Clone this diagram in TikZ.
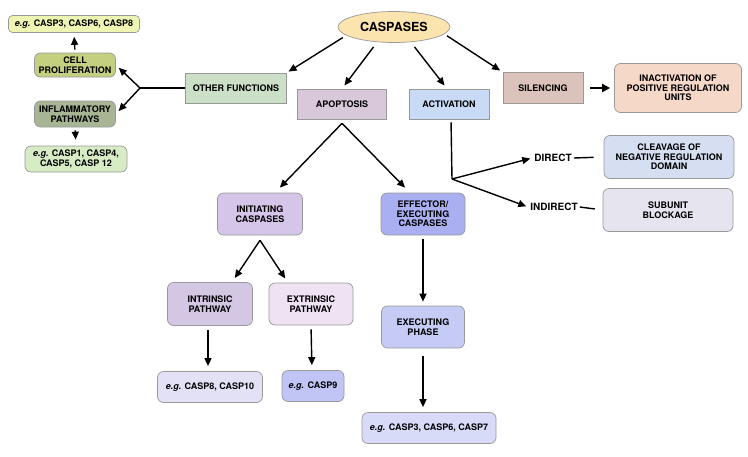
\documentclass[tikz,border=0pt]{standalone}
\usepackage{fontspec}
\setmainfont{TeX Gyre Heros}
\usetikzlibrary{arrows.meta,shapes.geometric}
\definecolor{cCasp}{HTML}{FCE4AE}
\definecolor{cOther}{HTML}{CCE0C8}
\definecolor{cApop}{HTML}{D8C8DA}
\definecolor{cAct}{HTML}{C8DAF5}
\definecolor{cSil}{HTML}{DBC3BB}
\definecolor{cInac}{HTML}{F5D8C8}
\definecolor{cCleav}{HTML}{D6DEF2}
\definecolor{cSub}{HTML}{E6E4EF}
\definecolor{cEgA}{HTML}{EEF5B3}
\definecolor{cCell}{HTML}{C5CF80}
\definecolor{cInfl}{HTML}{A8B595}
\definecolor{cEgB}{HTML}{D7EBC5}
\definecolor{cInit}{HTML}{D5C5E8}
\definecolor{cEff}{HTML}{AAAFF2}
\definecolor{cIntr}{HTML}{D3C7E3}
\definecolor{cExtr}{HTML}{EEE2F3}
\definecolor{cEgC}{HTML}{E3E1F6}
\definecolor{cEgD}{HTML}{C0C5F5}
\definecolor{cExec}{HTML}{C5CBF5}
\definecolor{cEgE}{HTML}{D8DBF8}
\begin{document}
\begin{tikzpicture}[x=1pt,y=-1pt,
  box/.style={draw=black!40, line width=0.7pt, align=center,
    font=\fontsize{9}{9.5}\selectfont\bfseries, inner sep=1pt},
  rbox/.style={box, rounded corners=6pt},
  lbl/.style={font=\fontsize{10}{11}\selectfont\bfseries, inner sep=2pt},
  arr/.style={-{Triangle[length=8pt,width=7pt]}, line width=1.4pt},
  ln/.style={line width=1.4pt}]
\useasboundingbox (0,0) rectangle (748,456);

% top
\node[ellipse, draw=black!40, line width=0.7pt, fill=cCasp, minimum width=112pt, minimum height=31pt,
  inner sep=0pt, font=\fontsize{12.5}{13}\selectfont\bfseries] (casp) at (394,27) {CASPASES};
\node[box, fill=cOther, minimum width=101pt, minimum height=30pt] (other) at (236,88) {OTHER FUNCTIONS};
\node[box, fill=cApop, minimum width=89pt, minimum height=30pt] (apop) at (342,104) {APOPTOSIS};
\node[box, fill=cAct, minimum width=80pt, minimum height=30pt] (act) at (449,104) {ACTIVATION};
\node[box, fill=cSil, minimum width=80pt, minimum height=31pt] (sil) at (543,88) {SILENCING};
\node[rbox, fill=cInac, minimum width=127pt, minimum height=49pt] (inac) at (678,88) {INACTIVATION OF\\POSITIVE REGULATION\\UNITS};

% activation branch
\node[lbl] (dir) at (553,158) {DIRECT};
\node[lbl] (indir) at (554,207) {INDIRECT};
\node[rbox, fill=cCleav, minimum width=130pt, minimum height=43pt] (cleav) at (669,157) {CLEAVAGE OF\\NEGATIVE REGULATION\\DOMAIN};
\node[rbox, fill=cSub, minimum width=130pt, minimum height=43pt] (sub) at (668,210) {SUBUNIT\\BLOCKAGE};
\coordinate (jact) at (452,179);

% left
\node[rbox, fill=cEgA, minimum width=131pt, minimum height=17pt, rounded corners=4pt] (egA) at (74,24) {\textit{e.g.} CASP3, CASP6, CASP8};
\node[rbox, fill=cCell, minimum width=81pt, minimum height=24pt] (cell) at (75,65) {CELL\\PROLIFERATION};
\node[rbox, fill=cInfl, minimum width=81pt, minimum height=26pt] (infl) at (75,114) {INFLAMMATORY\\PATHWAYS};
\node[rbox, fill=cEgB, minimum width=102pt, minimum height=26pt] (egB) at (76,159) {\textit{e.g.} CASP1, CASP4,\\CASP5, CASP 12};
\coordinate (jo) at (140,88);

% apoptosis branch
\node[rbox, fill=cInit, minimum width=85pt, minimum height=42pt] (init) at (260,214) {INITIATING\\CASPASES};
\node[rbox, fill=cEff, minimum width=84pt, minimum height=42pt] (eff) at (423,214) {EFFECTOR/\\EXECUTING\\CASPASES};
\node[rbox, fill=cIntr, minimum width=85pt, minimum height=43pt] (intr) at (210,304) {INTRINSIC\\PATHWAY};
\node[rbox, fill=cExtr, minimum width=84pt, minimum height=42pt] (extr) at (311,304) {EXTRINSIC\\PATHWAY};
\node[rbox, fill=cEgC, minimum width=105pt, minimum height=31pt] (egC) at (210,387) {\textit{e.g.} CASP8, CASP10};
\node[rbox, fill=cEgD, minimum width=62pt, minimum height=31pt] (egD) at (313,386) {\textit{e.g.} CASP9};
\node[rbox, fill=cExec, minimum width=83pt, minimum height=42pt] (exec) at (423,327) {EXECUTING\\PHASE};
\node[rbox, fill=cEgE, minimum width=134pt, minimum height=31pt] (egE) at (429,428) {\textit{e.g.} CASP3, CASP6, CASP7};
\coordinate (jap) at ([yshift=-4pt]apop.south);
\coordinate (jin) at ([yshift=-5pt]init.south);

% connectors from caspases
\draw[arr, shorten <=4pt, shorten >=2pt] (casp.190) -- (other.north east);
\draw[arr, shorten <=6pt, shorten >=4pt] (casp.222) -- (apop.north);
\draw[arr, shorten <=6pt, shorten >=4pt] (casp.318) -- ([xshift=-2pt]act.north);
\draw[arr, shorten <=3pt, shorten >=3pt] (casp.352) -- (sil.north west);

% other functions fork
\draw[ln] (other.west) -- (jo);
\draw[arr, shorten >=4pt] (jo) -- (cell.east);
\draw[arr, shorten >=4pt] (jo) -- (infl.east);
\draw[arr, shorten <=3pt, shorten >=4pt] (cell.north) -- (egA.south);
\draw[arr, shorten <=3pt, shorten >=6pt] (infl.south) -- (egB.north);

% silencing
\draw[-{Triangle[length=8pt,width=8pt]}, line width=2.4pt, shorten <=7pt, shorten >=4pt] (sil.east) -- (inac.west);

% activation
\draw[ln, shorten <=3pt] ([xshift=2pt]act.south) -- (jact);
\draw[arr, shorten >=2pt] (jact) -- (dir.west);
\draw[arr, shorten >=2pt] (jact) -- (indir.west);
\draw[ln, shorten >=10pt] (dir.east) -- (cleav.west);
\draw[ln, shorten >=8pt] (indir.east) -- (sub.west);

% apoptosis
\draw[arr, shorten >=7pt] (jap) -- ([xshift=15pt]init.north);
\draw[arr, shorten >=7pt] (jap) -- ([xshift=-13pt]eff.north);
\draw[arr, shorten >=5pt] (jin) -- ([xshift=22pt]intr.north);
\draw[arr, shorten >=5pt] (jin) -- ([xshift=-23pt]extr.north);
\draw[arr, shorten <=4pt, shorten >=5pt] ([xshift=-2pt]intr.south) -- ([xshift=-2pt]egC.north);
\draw[arr, shorten <=4pt, shorten >=5pt] (extr.south) -- ([xshift=-1pt]egD.north);
\draw[arr, shorten <=4pt, shorten >=4pt] (eff.south) -- (exec.north);
\draw[arr, shorten <=8pt, shorten >=5pt] (exec.south) -- ([xshift=-6pt]egE.north);
\end{tikzpicture}
\end{document}
